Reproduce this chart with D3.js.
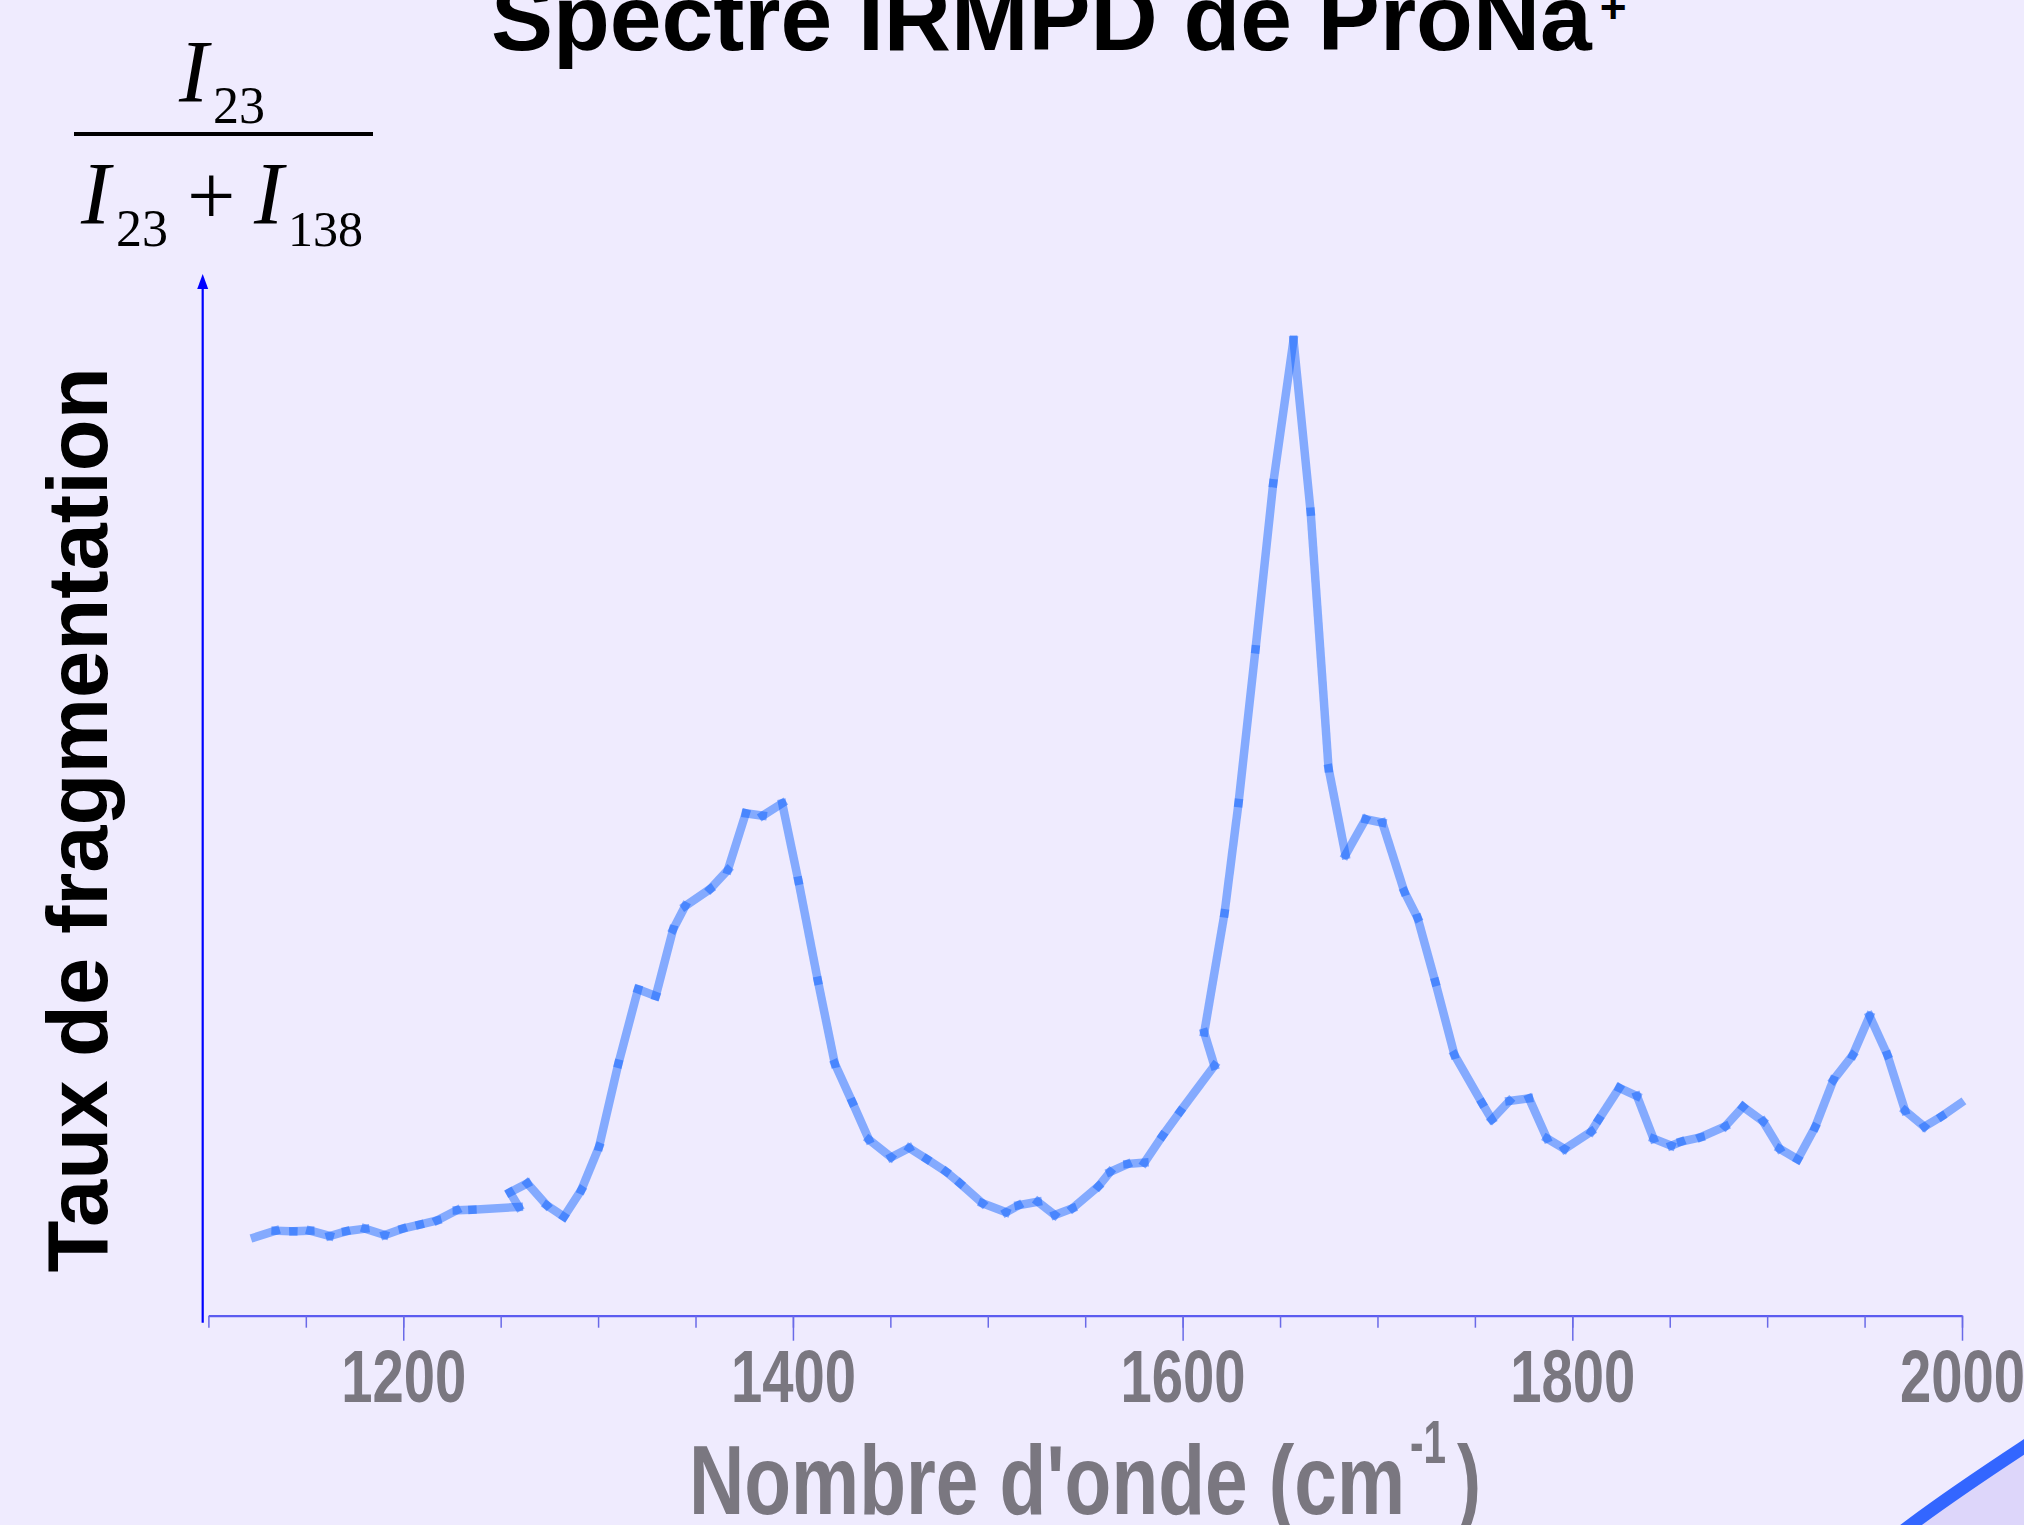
<!DOCTYPE html>
<html>
<head>
<meta charset="utf-8">
<script src="https://cdn.jsdelivr.net/npm/d3@7"></script>
<style>
  html, body { margin: 0; padding: 0; background: #efebfe; overflow: hidden; }
  svg { display: block; }
</style>
</head>
<body>
<svg id="chart"></svg>
<script>
// IRMPD spectrum of ProNa+
// (the scan is not monotonic: the laser steps back a little near 1260 and 1615)
const wavenumber = [
  1123.9, 1134.5, 1143.6, 1152.3, 1162.3, 1170.6, 1180.5, 1190.5, 1199.7, 1208.5,
  1217.5, 1227.5, 1235.5, 1259.3, 1254.8, 1263.7, 1273.7, 1282.5, 1291.4, 1300.5,
  1310.4, 1320.5, 1329.6, 1338.5, 1344.7, 1357.5, 1366.6, 1375.8, 1384.5, 1394.5,
  1402.8, 1412.8, 1421.5, 1430.5, 1439.0, 1450.4, 1459.7, 1468.7, 1478.6, 1485.8,
  1497.3, 1509.4, 1515.8, 1525.7, 1534.4, 1543.5, 1556.8, 1562.8, 1571.7, 1580.4,
  1589.7, 1598.8, 1616.3, 1611.1, 1621.5, 1628.7, 1637.4, 1646.5, 1656.9, 1665.7,
  1674.9, 1683.6, 1693.9, 1702.5, 1713.8, 1720.6, 1729.7, 1739.5, 1753.7, 1758.7,
  1767.7, 1777.8, 1787.0, 1796.0, 1809.7, 1813.6, 1824.1, 1833.2, 1841.7, 1850.8,
  1855.8, 1865.9, 1878.5, 1887.6, 1897.9, 1906.4, 1915.7, 1924.6, 1934.0, 1943.9,
  1952.6, 1961.7, 1970.8, 1980.7, 1989.6, 1999.2
]
// fragmentation rate I23/(I23+I138), arbitrary scale (top of the arrow = 1)
const rate = [
  0.0753, 0.0816, 0.0810, 0.0816, 0.0765, 0.0810, 0.0835, 0.0775, 0.0835, 0.0874,
  0.0916, 0.1012, 0.1018, 0.1044, 0.1185, 0.1271, 0.1060, 0.0950, 0.1207, 0.1622,
  0.2419, 0.3133, 0.3069, 0.3709, 0.3933, 0.4096, 0.4279, 0.4823, 0.4800, 0.4919,
  0.4176, 0.3216, 0.2419, 0.2049, 0.1690, 0.1521, 0.1610, 0.1504, 0.1382, 0.1271,
  0.1079, 0.0993, 0.1060, 0.1094, 0.0967, 0.1031, 0.1242, 0.1380, 0.1456, 0.1469,
  0.1728, 0.1962, 0.2400, 0.2719, 0.3863, 0.4922, 0.6397, 0.7991, 0.9367, 0.7718,
  0.5255, 0.4423, 0.4766, 0.4733, 0.4070, 0.3818, 0.3203, 0.2505, 0.2040, 0.1883,
  0.2061, 0.2087, 0.1701, 0.1600, 0.1768, 0.1885, 0.2186, 0.2109, 0.1699, 0.1632,
  0.1670, 0.1713, 0.1818, 0.2006, 0.1866, 0.1603, 0.1501, 0.1809, 0.2263, 0.2500,
  0.2877, 0.2503, 0.1968, 0.1814, 0.1914, 0.2039
]
const xDomain = [1100, 2000]
const minorTicks = [1100, 1150, 1200, 1250, 1300, 1350, 1400, 1450, 1500, 1550,
                    1600, 1650, 1700, 1750, 1800, 1850, 1900, 1950, 2000]
const majorTicks = [1200, 1400, 1600, 1800, 2000]

var width = 2024
var height = 1525
var axisY = 1315.7
var axisX = 202.7

var svg = d3.select("#chart")
    .attr("width", width)
    .attr("height", height)

svg.append("rect")
    .attr("width", width)
    .attr("height", height)
    .style("fill", "#efebfe")

let xScale = d3.scaleLinear()
    .domain(xDomain)
    .range([208.4, 1962])
let yScale = d3.scaleLinear()
    .domain([0, 1])
    .range([axisY, 274])

// slide decoration, bottom right corner
svg.append("path")
    .attr("d", "M1911,1525 Q1952.5,1494 2024,1447 L2040,1447 L2040,1540 L1900,1540 Z")
    .style("fill", "#ddd6fa")
svg.append("path")
    .attr("d", "M1895,1537 L1911,1525 Q1952.5,1494 2024,1447 L2040,1436")
    .style("fill", "none")
    .style("stroke", "#3366ff")
    .style("stroke-width", 13)

// title, cut by the top of the slide
var title = svg.append("text")
    .attr("x", 491)
    .attr("y", 50)
    .style("font-family", "'Liberation Sans', Arial, sans-serif")
    .style("font-weight", "bold")
    .style("font-size", "93px")
    .style("fill", "#000")
title.append("tspan").text("Spectre IRMPD de ProNa")
title.append("tspan")
    .attr("dy", -27)
    .attr("dx", 8)
    .style("font-size", "46px")
    .text("+")

// the ratio I23 / (I23 + I138) above the axis
var serif = "'Liberation Serif', 'Times New Roman', serif"
function ratioText(x, y, str, size, italic) {
  svg.append("text")
      .attr("x", x)
      .attr("y", y)
      .style("font-family", serif)
      .style("font-size", size + "px")
      .style("font-style", italic ? "italic" : "normal")
      .style("fill", "#000")
      .text(str)
}
ratioText(179, 101, "I", 88, true)
ratioText(213, 123, "23", 52, false)
svg.append("line")
    .attr("x1", 74).attr("x2", 373)
    .attr("y1", 134).attr("y2", 134)
    .style("stroke", "#000")
    .style("stroke-width", 4)
ratioText(81, 223, "I", 88, true)
ratioText(116, 246, "23", 52, false)
ratioText(187, 225, "+", 86, false)
ratioText(254, 223, "I", 88, true)
ratioText(288, 246, "138", 50, false)

// y title
svg.append("text")
    .attr("transform", "translate(107,820) rotate(-90)")
    .style("text-anchor", "middle")
    .style("font-family", "'Liberation Sans', Arial, sans-serif")
    .style("font-weight", "bold")
    .style("font-size", "85px")
    .style("fill", "#000")
    .text("Taux de fragmentation")

// y axis: a plain blue arrow, no ticks
svg.append("line")
    .attr("x1", axisX).attr("x2", axisX)
    .attr("y1", axisY + 7).attr("y2", yScale(1) + 12)
    .style("stroke", "#0000ff")
    .style("stroke-width", 2.2)
svg.append("path")
    .attr("d", "M" + axisX + "," + yScale(1) + " l-5.5,15 l11,0 Z")
    .style("fill", "#0000ff")

// x axis: short ticks every 50, long ones with labels every 200
var minorAxis = d3.axisBottom(xScale)
    .tickValues(minorTicks)
    .tickSize(12)
    .tickSizeOuter(0)
    .tickFormat("")
var gMinor = svg.append("g")
    .attr("transform", "translate(0," + axisY + ")")
    .call(minorAxis)
gMinor.select(".domain").style("stroke", "#5b5bf0").style("stroke-width", 2.2)
gMinor.selectAll(".tick line").style("stroke", "#6a6ae8").style("stroke-width", 1.5)

var majorAxis = d3.axisBottom(xScale)
    .tickValues(majorTicks)
    .tickSize(25)
    .tickSizeOuter(0)
    .tickFormat(d3.format("d"))
var gMajor = svg.append("g")
    .attr("transform", "translate(0," + axisY + ")")
    .call(majorAxis)
gMajor.select(".domain").remove()
gMajor.selectAll(".tick line").style("stroke", "#6a6ae8").style("stroke-width", 1.5)
gMajor.selectAll(".tick text")
    .attr("y", 86)
    .attr("dy", 0)
    .attr("textLength", 125)
    .attr("lengthAdjust", "spacingAndGlyphs")
    .style("font-family", "'Liberation Sans Narrow', 'Arial Narrow', 'Liberation Sans', sans-serif")
    .style("font-weight", "bold")
    .style("font-size", "74px")
    .style("fill", "#7a7780")

// x title with its superscript
var narrow = "'Liberation Sans Narrow', 'Arial Narrow', 'Liberation Sans', sans-serif"
function xTitle(x, y, str, size, len) {
  svg.append("text")
      .attr("x", x)
      .attr("y", y)
      .attr("textLength", len)
      .attr("lengthAdjust", "spacingAndGlyphs")
      .style("font-family", narrow)
      .style("font-weight", "bold")
      .style("font-size", size + "px")
      .style("fill", "#7a7780")
      .text(str)
}
xTitle(689, 1514, "Nombre d'onde (cm", 98, 716)
xTitle(1410, 1463, "-1", 62, 36)
xTitle(1457, 1514, ")", 98, 24)

// spectrum: each step drawn on its own, semi transparent with square caps,
// so the joints come out darker like in the original
let pts = wavenumber.map(function(d, i) { return [d, rate[i]] })
svg.append("g").selectAll("line")
    .data(d3.pairs(pts))
    .enter()
    .append("line")
    .attr("x1", function(d) { return xScale(d[0][0]) })
    .attr("y1", function(d) { return yScale(d[0][1]) })
    .attr("x2", function(d) { return xScale(d[1][0]) })
    .attr("y2", function(d) { return yScale(d[1][1]) })
    .style("stroke", "rgb(2,92,255)")
    .style("stroke-opacity", 0.45)
    .style("stroke-width", 8.5)
    .style("stroke-linecap", "square")
</script>
</body>
</html>
